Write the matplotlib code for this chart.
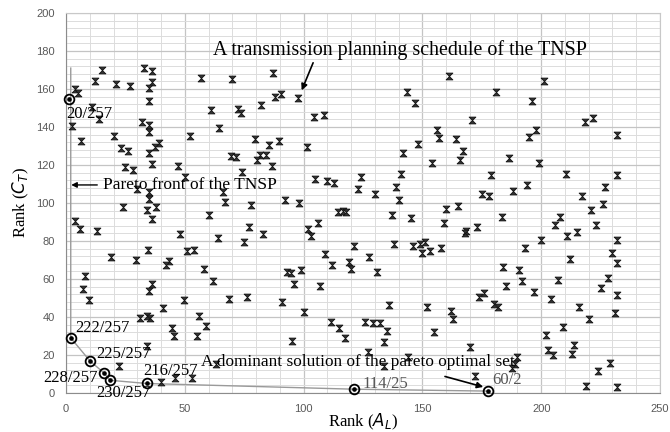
import numpy as np
import matplotlib
matplotlib.use("Agg")
import matplotlib.pyplot as plt
from matplotlib.path import Path

# dominated solutions (Rank A_L, Rank C_T)
dom_x = [
    4, 5, 15, 12, 21, 27, 33, 36, 36, 35, 35, 57, 11, 14, 2.4, 6.3, 32, 35, 35, 20,
    23, 26, 39, 37.5, 35, 36, 25, 28, 47, 50, 61, 64.5, 52, 35, 35, 30, 24, 34, 38, 66,
    67, 78, 60, 36, 4, 6, 13,
    70, 87, 88, 90.5, 97.5, 82, 72.5, 73.5, 104.5, 108.5, 79.5, 85.5, 89.5, 101.5, 69.5, 71.5, 81.5, 84, 80.5,
    86.5, 74, 105, 110, 113, 124, 123, 92, 98, 114.5, 116.5, 118,
    161, 143.5, 147, 181, 171, 156, 157, 164, 148, 167, 166, 142, 154, 186.5, 141, 139, 140, 130, 179, 175,
    178, 188, 160, 165,
    201, 196, 218.5, 222, 232, 198, 195, 199, 210.5, 232, 227, 194, 217, 226, 221,
    48, 64, 34.5, 51, 54, 19, 29.5, 43.5, 42, 58, 62, 8, 7, 9.5, 36, 35, 49.5, 41, 31, 34,
    35.5, 56, 59, 44.5, 45.5, 55, 34, 22.5, 40, 46, 53,
    77, 75, 83, 102, 103, 106, 121, 109, 112, 119, 120, 127.5, 93, 94.5, 99, 96, 107, 68.5, 76, 91,
    100, 111.5, 115, 117.5, 126, 95, 63, 127,
    137, 145, 159, 168.5, 168, 173, 183.5, 138, 146, 149, 151, 150, 153, 158, 131, 184, 185, 190.5, 174, 176,
    180, 182, 136, 152, 162, 163, 129, 132, 135, 134, 155, 134, 144, 170, 172, 190, 189, 187.5,
    208, 206, 223, 215, 211, 200, 232, 193, 230, 232, 212, 192, 207, 228, 225, 197, 204, 232, 216, 231,
    220, 209, 202, 214, 203, 205, 213, 229, 224, 219, 232,
]
dom_y = [
    160, 158, 170, 164, 162.5, 161.5, 171, 169.5, 163.5, 160.5, 153.5, 166, 150.5, 144, 140.5, 132.5, 142.5, 141, 137.5, 135.5,
    129, 127.5, 131.5, 129.5, 126.5, 120.5, 119, 117.5, 119.5, 113.5, 149, 139.5, 135.5, 106, 102, 107.5, 98, 96.5, 98, 106,
    100.5, 99, 93.5, 91.5, 90.5, 86.5, 85.5,
    165.5, 168.5, 156, 157.5, 155.5, 151.5, 149.5, 147.5, 145.5, 146.5, 133.5, 130.5, 132.5, 129.5, 124.5, 124, 125.5, 125.5, 122.5,
    119.5, 116.5, 112.5, 111.5, 110.5, 113.5, 107.5, 101.5, 100, 95.5, 96, 95,
    167, 158.5, 152.5, 158.5, 143.5, 138.5, 134, 133.5, 131, 127.5, 122.5, 126.5, 121, 123.5, 115.5, 108.5, 101.5, 104.5, 114.5, 104.5,
    103.5, 106.5, 97, 98.5,
    164, 153.5, 142.5, 144.5, 136, 138.5, 134.5, 121, 115.5, 114.5, 108.5, 109.5, 103.5, 99.5, 96.5,
    83.5, 81.5, 75.5, 74.5, 75.5, 71.5, 70, 69.5, 67.5, 65.5, 59, 61.5, 54.5, 49, 57.5, 53.5, 49, 44.5, 39.5, 40.5,
    39.5, 40.5, 35.5, 34, 30, 30, 24.5, 14, 6, 8, 8,
    87.5, 79.5, 83.5, 86.5, 82.5, 89.5, 77.5, 73, 67.5, 69, 65.5, 71.5, 63.5, 63, 64.5, 57.5, 56.5, 49.5, 50.5, 48,
    42.5, 37.5, 34, 29, 37.5, 27.5, 15.5, 21.5,
    93.5, 92, 89.5, 85.5, 84, 87.5, 92.5, 78.5, 77.5, 78.5, 79.5, 73.5, 74.5, 76.5, 63.5, 66.5, 56.5, 64.5, 50.5, 52.5,
    47, 45.5, 46.5, 45, 43, 39, 37, 37, 32.5, 27, 32, 14, 19, 24, 9, 19, 15, 13,
    92.5, 88.5, 88.5, 84.5, 82.5, 80.5, 80.5, 76.5, 73.5, 68.5, 70.5, 59, 59.5, 60.5, 55.5, 53, 49.5, 51.5, 45.5, 42,
    39, 34.5, 30.5, 25.5, 22.5, 20, 20.5, 16, 11.5, 3.5, 3,
]

# Pareto optimal set of the TNSP
pareto_x = [1.3, 2, 10, 16, 18.5, 34, 121, 177.5]
pareto_y = [155, 29, 17, 10.5, 6.7, 5, 2, 1]
pareto_labels = ["20/257", "222/257", "225/257", "228/257", "230/257", "216/257", "114/25", "60/2"]
# front line (starts a little above the 20/257 point on the left edge)
front_x = [2, 2, 2, 10, 16, 18.5, 34, 121, 177.5]
front_y = [171, 155, 29, 17, 10.5, 6.7, 5, 2, 1]

SERIF = ["Liberation Serif", "DejaVu Serif"]

# hourglass-like cross marker (Excel style "x")
hourglass = Path([(-1, 1), (1, 1), (-1, -1), (1, -1), (-1, 1)],
                 [Path.MOVETO, Path.LINETO, Path.LINETO, Path.LINETO, Path.CLOSEPOLY])

fig = plt.figure(figsize=(6.7, 4.32), dpi=100)
ax = fig.add_axes([0.0985, 0.0903, 0.8866, 0.8796])

ax.set_xlim(0, 250)
ax.set_ylim(0, 200)
ax.set_xticks(np.arange(0, 251, 50))
ax.set_xticks(np.arange(0, 251, 10), minor=True)
ax.set_yticks(np.arange(0, 201, 20))
ax.set_yticks(np.arange(0, 201, 4), minor=True)
ax.grid(True, which="minor", color="#dcdcdc", linewidth=0.7)
ax.grid(True, which="major", color="#c4c4c4", linewidth=0.9)
ax.set_axisbelow(True)
ax.tick_params(which="both", length=0, labelsize=8, labelcolor="#595959", pad=8)
for lab in ax.get_xticklabels() + ax.get_yticklabels():
    lab.set_family(["Liberation Sans", "DejaVu Sans"])
for side in ["top", "right"]:
    ax.spines[side].set_color("#c8c8c8")
for side in ["left", "bottom"]:
    ax.spines[side].set_color("#8c8c8c")

ax.scatter(dom_x, dom_y, marker=hourglass, s=24, facecolor="#333333",
           edgecolor="#111111", linewidth=0.6, zorder=3)

ax.plot(front_x, front_y, color="#9a9a9a", linewidth=1.0, zorder=2)
ax.plot(pareto_x, pareto_y, "o", markersize=7, markerfacecolor="none",
        markeredgecolor="black", markeredgewidth=1.3, zorder=4, clip_on=False)
ax.plot(pareto_x, pareto_y, "o", markersize=2.3, color="black", zorder=5, clip_on=False)

# point labels
label_pos = {
    "20/257": (0.3, 147, "black"),
    "222/257": (3.8, 34, "black"),
    "225/257": (12.9, 20.4, "black"),
    "228/257": (-9.6, 7.7, "black"),
    "230/257": (12.9, 0, "black"),
    "216/257": (32.5, 11.4, "black"),
    "114/25": (124.7, 4.9, "#555555"),
    "60/2": (179.4, 6.7, "#555555"),
}
for lab in pareto_labels:
    lx, ly, col = label_pos[lab]
    ax.text(lx, ly, lab, ha="left", va="center", fontsize=12, family=SERIF,
            color=col, clip_on=False, zorder=6)

ax.annotate("A transmission planning schedule of the TNSP", xy=(99.2, 159.3),
            xytext=(62, 180.5), ha="left", va="center", fontsize=14.4, family=SERIF,
            arrowprops=dict(arrowstyle="-|>", color="black", lw=1.2, mutation_scale=9,
                            shrinkA=0, shrinkB=0, relpos=(0.27, 0.0)))
ax.annotate("Pareto front of the TNSP", xy=(2.2, 109.5), xytext=(15.5, 109.5),
            ha="left", va="center", fontsize=12.5, family=SERIF,
            arrowprops=dict(arrowstyle="-|>", color="black", lw=1.0, mutation_scale=8,
                            shrinkA=2, shrinkB=0))
ax.text(57, 16.3, "A dominant solution of the pareto optimal set", ha="left", va="center",
        fontsize=12.4, family=SERIF)
ax.annotate("", xy=(175.6, 3.2), xytext=(159.5, 8.7),
            arrowprops=dict(arrowstyle="-|>", color="black", lw=1.2, mutation_scale=9,
                            shrinkA=0, shrinkB=0))

ax.set_xlabel("Rank ($A_L$)", fontsize=12, family=SERIF)
ax.xaxis.set_label_coords(0.5, -0.05)
ax.set_ylabel("Rank ($C_T$)", fontsize=12, family=SERIF, labelpad=4)

fig.savefig("out.png", dpi=100)
